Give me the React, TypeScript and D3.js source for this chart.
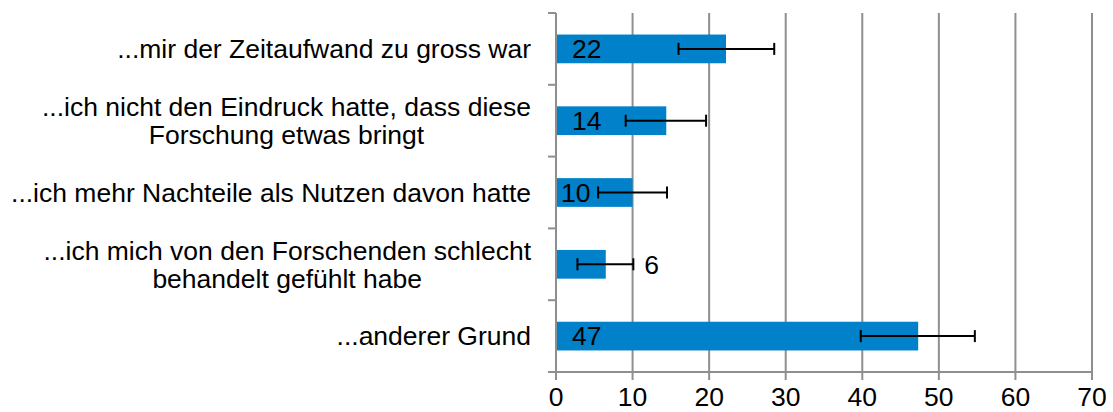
import React, { useEffect, useRef } from "react";
import * as d3 from "d3";

const categories: string[][] = [
  ["...mir der Zeitaufwand zu gross war"],
  ["...ich nicht den Eindruck hatte, dass diese", "Forschung etwas bringt"],
  ["...ich mehr Nachteile als Nutzen davon hatte"],
  ["...ich mich von den Forschenden schlecht", "behandelt gefühlt habe"],
  ["...anderer Grund"],
];
const values = [22.2, 14.4, 10.0, 6.5, 47.3];
const errLow = [16.0, 9.1, 5.5, 2.8, 39.8];
const errHigh = [28.5, 19.6, 14.5, 10.1, 54.7];
const valueLabels = ["22", "14", "10", "6", "47"];
const xTicks = [0, 10, 20, 30, 40, 50, 60, 70];

const W = 1113;
const H = 412;
const FONT = "'Liberation Sans', Arial, Helvetica, sans-serif";
const FS = 26.5;
const BAR = "#0081C9";
const GRID = "#8f8f8f";

export default function App() {
  const ref = useRef<SVGSVGElement>(null);
  useEffect(() => {
    const svg = d3.select(ref.current);
    svg.selectAll("*").remove();
    const left = 556, right = 1092, top = 13, bottom = 372;
    const x = d3.scaleLinear().domain([0, 70]).range([left, right]);
    const idx = categories.map((_, i) => String(i));
    const y = d3.scaleBand().domain(idx).range([top, bottom]).paddingInner(0.6).paddingOuter(0.3);
    const step = y.step();

    // grid lines
    svg.append("g").selectAll("line").data(xTicks.slice(1)).join("line")
      .attr("x1", d => x(d)).attr("x2", d => x(d)).attr("y1", top).attr("y2", bottom)
      .attr("stroke", GRID).attr("stroke-width", 2);

    // bars
    svg.append("g").selectAll("rect").data(values).join("rect")
      .attr("x", x(0)).attr("y", (_, i) => y(String(i))!)
      .attr("width", d => x(d) - x(0)).attr("height", y.bandwidth())
      .attr("fill", BAR);

    // y axis
    svg.append("line").attr("x1", left).attr("x2", left).attr("y1", top).attr("y2", bottom)
      .attr("stroke", GRID).attr("stroke-width", 2);
    svg.append("g").selectAll("line").data(d3.range(categories.length + 1)).join("line")
      .attr("x1", left - 8).attr("x2", left).attr("y1", d => top + d * step).attr("y2", d => top + d * step)
      .attr("stroke", GRID).attr("stroke-width", 2);

    // x axis
    svg.append("line").attr("x1", left).attr("x2", right).attr("y1", bottom).attr("y2", bottom)
      .attr("stroke", GRID).attr("stroke-width", 2);
    svg.append("g").selectAll("line").data(xTicks).join("line")
      .attr("x1", d => x(d)).attr("x2", d => x(d)).attr("y1", bottom).attr("y2", bottom + 8)
      .attr("stroke", GRID).attr("stroke-width", 2);
    svg.append("g").selectAll("text").data(xTicks).join("text")
      .attr("x", d => x(d)).attr("y", bottom + 25).attr("dy", "0.35em")
      .attr("text-anchor", "middle").attr("font-family", FONT).attr("font-size", FS)
      .attr("fill", "#000").text(d => String(d));

    // error bars
    const eg = svg.append("g").attr("stroke", "#000").attr("stroke-width", 2);
    values.forEach((_, i) => {
      const cy = y(String(i))! + y.bandwidth() / 2;
      eg.append("line").attr("x1", x(errLow[i])).attr("x2", x(errHigh[i])).attr("y1", cy).attr("y2", cy);
      [errLow[i], errHigh[i]].forEach(v => {
        eg.append("line").attr("x1", x(v)).attr("x2", x(v)).attr("y1", cy - 6).attr("y2", cy + 6);
      });
    });

    // value labels
    svg.append("g").selectAll("text").data(values).join("text")
      .attr("x", (d, i) => {
        const w = x(d) - x(0);
        if (w > 100) return x(0) + 16;
        if (w > 60) return x(0) + 5;
        return x(errHigh[i]) + 11;
      })
      .attr("y", (_, i) => y(String(i))! + y.bandwidth() / 2).attr("dy", "0.35em")
      .attr("font-family", FONT).attr("font-size", FS).attr("fill", "#000")
      .text((_, i) => valueLabels[i]);

    // category labels
    const labelRight = 531;
    const lineH = 28;
    categories.forEach((lines, i) => {
      const cy = y(String(i))! + y.bandwidth() / 2;
      const g = svg.append("g");
      const texts = lines.map((ln, j) =>
        g.append("text")
          .attr("y", cy + (j - (lines.length - 1) / 2) * lineH).attr("dy", "0.35em")
          .attr("font-family", FONT).attr("font-size", FS).attr("fill", "#000")
          .attr("text-anchor", "middle").text(ln)
      );
      const maxW = d3.max(texts, t => (t.node() as SVGTextElement).getComputedTextLength()) || 0;
      texts.forEach(t => t.attr("x", labelRight - maxW / 2));
    });
  }, []);
  return (
    <svg ref={ref} width={W} height={H}
      style={{ position: "absolute", left: 0, top: 0, background: "#fff" }} />
  );
}
